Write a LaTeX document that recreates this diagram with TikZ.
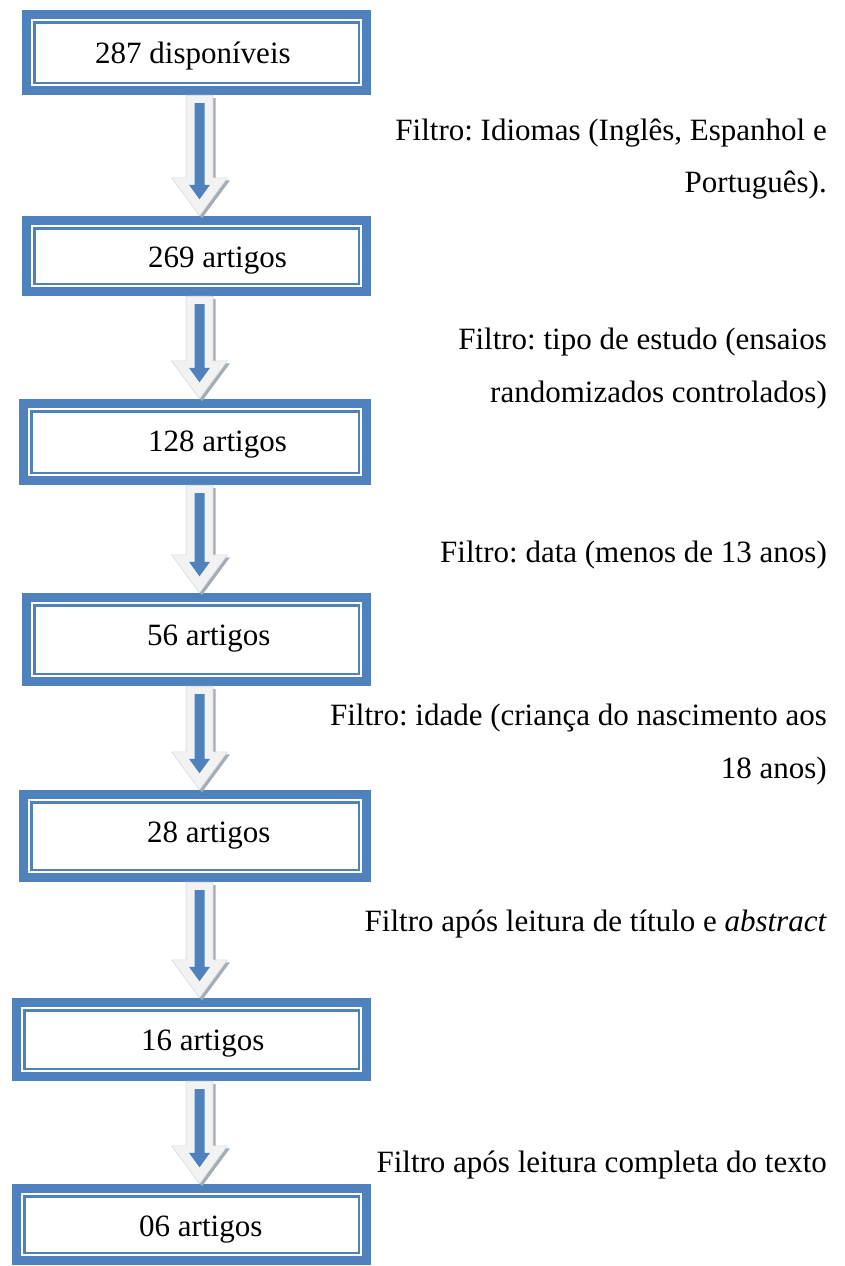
\documentclass[tikz,border=0pt]{standalone}
\usepackage{fontspec}
\setmainfont{Liberation Serif}
\usetikzlibrary{calc}
\definecolor{bblue}{HTML}{4F81BD}
\definecolor{arrowfill}{HTML}{F2F2F2}
\definecolor{arrowedge}{HTML}{D5DAE0}
\definecolor{arrowshadow}{HTML}{A3ACB7}
\tikzset{
  stepbox/.style={rectangle, inner sep=0pt, fill=white,
    path picture={
      \draw[bblue, line width=9pt]
        ([shift={(4.5pt,-4.5pt)}]path picture bounding box.north west) rectangle
        ([shift={(-4.5pt,4.5pt)}]path picture bounding box.south east);
      \draw[bblue, line width=2.5pt]
        ([shift={(12.25pt,-12.25pt)}]path picture bounding box.north west) rectangle
        ([shift={(-12.25pt,12.25pt)}]path picture bounding box.south east);
    }},
  boxtext/.style={inner sep=0pt, anchor=base west, font=\fontsize{31}{37}\selectfont\frenchspacing},
  sidetext/.style={inner sep=0pt, anchor=base east, font=\fontsize{31}{37}\selectfont\frenchspacing}
}
\newcommand\flowarrow[2]{%
  \path let \p1=(#1.south), \p2=(#2.north) in
    [fill=arrowshadow]
      (188.5pt,\y1-3pt) -- (215.5pt,\y1-3pt) -- (215.5pt,\y2+35.5pt) -- (230pt,\y2+35.5pt)
      -- (202pt,\y2-2.5pt) -- (174pt,\y2+35.5pt) -- (188.5pt,\y2+35.5pt) -- cycle;
  \path let \p1=(#1.south), \p2=(#2.north) in
    [fill=arrowfill, draw=arrowedge, line width=0.6pt]
      (186pt,\y1) -- (213pt,\y1) -- (213pt,\y2+38pt) -- (227.5pt,\y2+38pt)
      -- (199.5pt,\y2) -- (171.5pt,\y2+38pt) -- (186pt,\y2+38pt) -- cycle;
  \path let \p1=(#1.south), \p2=(#2.north) in
    [fill=bblue]
      (194.5pt,\y1-8pt) -- (204.5pt,\y1-8pt) -- (204.5pt,\y2+31pt) -- (210pt,\y2+31pt)
      -- (199.5pt,\y2+16.5pt) -- (189pt,\y2+31pt) -- (194.5pt,\y2+31pt) -- cycle;
}
\begin{document}
\begin{tikzpicture}[x=1pt,y=-1pt]
\useasboundingbox (0,0) rectangle (844,1266);
% boxes
\node[stepbox, minimum width=349pt, minimum height=85pt] (b1) at (196.5,52.5) {};
\node[stepbox, minimum width=349pt, minimum height=80pt] (b2) at (196.5,256) {};
\node[stepbox, minimum width=352pt, minimum height=86pt] (b3) at (195,442) {};
\node[stepbox, minimum width=349pt, minimum height=93pt] (b4) at (196.5,639.5) {};
\node[stepbox, minimum width=352pt, minimum height=92pt] (b5) at (195,836) {};
\node[stepbox, minimum width=359pt, minimum height=83pt] (b6) at (191.5,1039.5) {};
\node[stepbox, minimum width=359pt, minimum height=81pt] (b7) at (191.5,1224.5) {};
% box texts
\node[boxtext] (t1) at (95,63) {287 disponíveis};
\node[boxtext] (t2) at (148,267.5) {269 artigos};
\node[boxtext] (t3) at (148,451.5) {128 artigos};
\node[boxtext] (t4) at (147,645.5) {56 artigos};
\node[boxtext] (t5) at (147,842.5) {28 artigos};
\node[boxtext] (t6) at (141,1050) {16 artigos};
\node[boxtext] (t7) at (139,1236) {06 artigos};
% arrows
\flowarrow{b1}{b2}
\flowarrow{b2}{b3}
\flowarrow{b3}{b4}
\flowarrow{b4}{b5}
\flowarrow{b5}{b6}
\flowarrow{b6}{b7}
% side texts
\node[sidetext] (r1a) at (827,140) {Filtro: Idiomas (Inglês, Espanhol e};
\node[sidetext] (r1b) at (827,192) {Português).};
\node[sidetext] (r2a) at (827,349) {Filtro: tipo de estudo (ensaios};
\node[sidetext] (r2b) at (827,402) {randomizados controlados)};
\node[sidetext] (r3) at (827,562) {Filtro: data (menos de 13 anos)};
\node[sidetext] (r4a) at (827,725) {Filtro: idade (criança do nascimento aos};
\node[sidetext] (r4b) at (827,778) {18 anos)};
\node[sidetext] (r5) at (827,931) {Filtro após leitura de título e \textit{abstract}};
\node[sidetext] (r6) at (827,1172) {Filtro após leitura completa do texto};
\end{tikzpicture}
\end{document}
